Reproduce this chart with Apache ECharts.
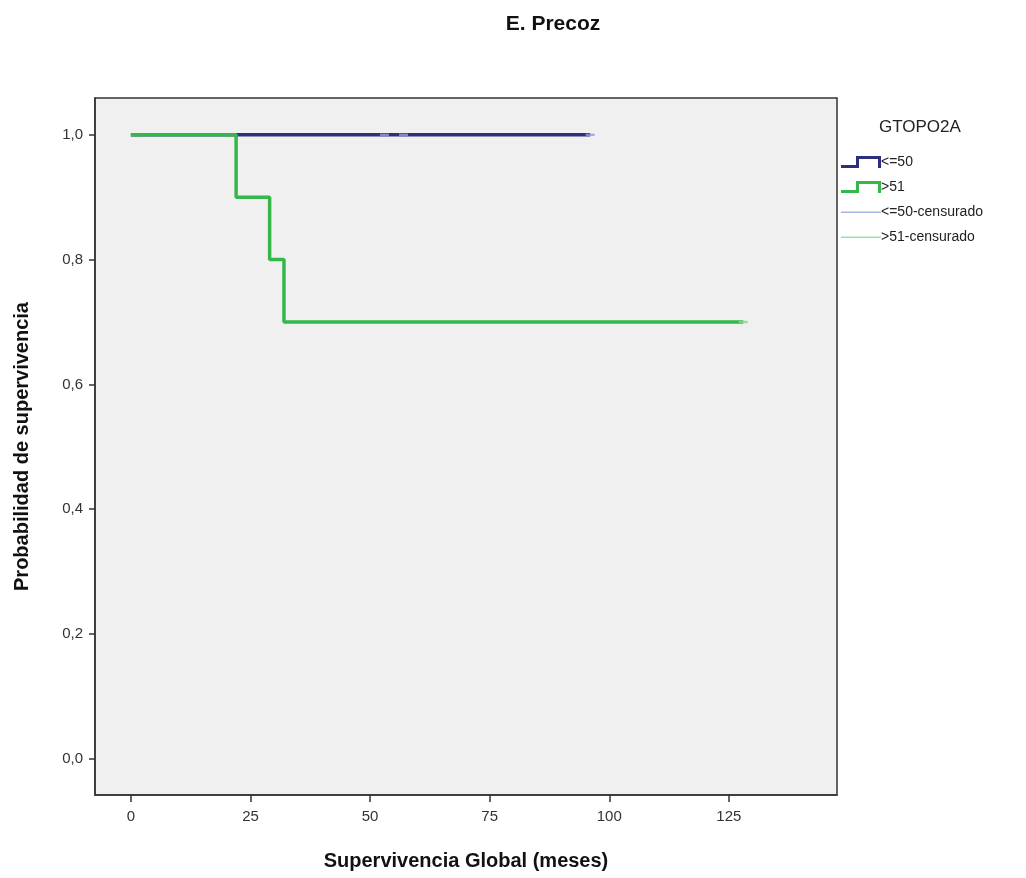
<!DOCTYPE html>
<html>
<head>
<meta charset="utf-8">
<script src="https://cdn.jsdelivr.net/npm/echarts@6/dist/echarts.min.js"></script>
<style>
html,body{margin:0;padding:0;background:#fff;}
#c{width:1026px;height:878px;}
</style>
</head>
<body>
<div id="c"></div>
<script>
// ---- data ----
var groupNames = ['<=50', '>51', '<=50-censurado', '>51-censurado'];
var xTicks = [0, 25, 50, 75, 100, 125];
var yTicks = [0, 0.2, 0.4, 0.6, 0.8, 1.0];
// Kaplan-Meier steps: times where survival changes, survival after change
var lowTimes = [0];
var lowSurv = [1.0];
var lowEnd = 96;
var highTimes = [0, 22, 29, 32];
var highSurv = [1.0, 0.9, 0.8, 0.7];
var highEnd = 128;
var lowCensorTimes = [53, 57, 96];
var highCensorTimes = [128];

function stepPoints(times, surv, end) {
  var pts = [];
  for (var i = 0; i < times.length; i++) {
    if (i > 0) pts.push([times[i], surv[i - 1]]);
    pts.push([times[i], surv[i]]);
  }
  pts.push([end, surv[surv.length - 1]]);
  return pts;
}
function survAt(times, surv, t) {
  var s = surv[0];
  for (var i = 0; i < times.length; i++) if (times[i] <= t) s = surv[i];
  return s;
}
function censorPoints(times, surv, ct) {
  return ct.map(function (t) { return [t, survAt(times, surv, t)]; });
}

var cNavy = '#2b2f7d', cGreen = '#35b84a', cLBlue = '#8ea3dc', cLGreen = '#7fdc8d';
var stepIcon = 'path://M0,9 L15,9 L15,0 L40,0 L40,12 L37,12 L37,3 L18,3 L18,12 L0,12 Z';
var thinIcon = 'path://M0,0 M40,12 M0,5.5 L40,5.5 L40,7 L0,7 Z';
var fontTick = "'Liberation Sans Narrow', 'Liberation Sans', Arial, sans-serif";
var fontMain = "'Liberation Sans', Arial, sans-serif";

var chart = echarts.init(document.getElementById('c'), null, {renderer: 'canvas'});
chart.setOption({
  animation: false,
  backgroundColor: '#ffffff',
  title: [
    {text: 'E. Precoz', left: 548, top: 9, textAlign: 'center',
     textStyle: {fontFamily: fontMain, fontSize: 21, fontWeight: 'bold', color: '#111'}},
    {text: 'GTOPO2A', left: 874, top: 114,
     textStyle: {fontFamily: fontMain, fontSize: 17, fontWeight: 'normal', color: '#222'}}
  ],
  legend: {
    orient: 'vertical', left: 836, top: 150, itemWidth: 40, itemHeight: 12, itemGap: 11,
    textStyle: {fontFamily: fontMain, fontSize: 14, color: '#222', padding: [0, 0, 0, -5]},
    data: [
      {name: groupNames[0], icon: stepIcon, itemStyle: {color: cNavy}},
      {name: groupNames[1], icon: stepIcon, itemStyle: {color: cGreen}},
      {name: groupNames[2], icon: thinIcon, itemStyle: {color: cLBlue}},
      {name: groupNames[3], icon: thinIcon, itemStyle: {color: cLGreen}}
    ]
  },
  grid: {left: 95, right: 189, top: 98, bottom: 83, show: true,
         backgroundColor: '#f0f0f0', borderColor: '#333', borderWidth: 1.5},
  xAxis: {
    type: 'value', min: -7.5, max: 147.6,
    name: 'Supervivencia Global (meses)', nameLocation: 'middle', nameGap: 56,
    nameTextStyle: {fontFamily: fontMain, fontSize: 20, fontWeight: 'bold', color: '#111'},
    axisLine: {show: true, onZero: false, lineStyle: {color: '#333', width: 1.5}},
    axisTick: {show: true, customValues: xTicks, length: 7, lineStyle: {color: '#333', width: 1.5}},
    axisLabel: {customValues: xTicks, margin: 14, fontFamily: fontTick, fontSize: 15, color: '#333',
                formatter: function (v) { return String(v); }},
    splitLine: {show: false}
  },
  yAxis: {
    type: 'value', min: -0.058, max: 1.059,
    name: 'Probabilidad de supervivencia', nameLocation: 'middle', nameGap: 63,
    nameTextStyle: {fontFamily: fontMain, fontSize: 20, fontWeight: 'bold', color: '#111'},
    axisLine: {show: true, onZero: false, lineStyle: {color: '#333', width: 1.5}},
    axisTick: {show: true, customValues: yTicks, length: 6, lineStyle: {color: '#333', width: 1.5}},
    axisLabel: {customValues: yTicks, margin: 12, fontFamily: fontTick, fontSize: 15, color: '#333',
                formatter: function (v) { return v.toFixed(1).replace('.', ','); }},
    splitLine: {show: false}
  },
  series: [
    {name: groupNames[0], type: 'line', data: stepPoints(lowTimes, lowSurv, lowEnd),
     showSymbol: false, symbol: 'none', lineStyle: {color: cNavy, width: 3.5}, itemStyle: {color: cNavy}, z: 2},
    {name: groupNames[1], type: 'line', data: stepPoints(highTimes, highSurv, highEnd),
     showSymbol: false, symbol: 'none', lineStyle: {color: cGreen, width: 3.5}, itemStyle: {color: cGreen}, z: 3},
    {name: groupNames[2], type: 'scatter', data: censorPoints(lowTimes, lowSurv, lowCensorTimes),
     symbol: 'rect', symbolSize: [9, 2.5], itemStyle: {color: cLBlue}, z: 4},
    {name: groupNames[3], type: 'scatter', data: censorPoints(highTimes, highSurv, highCensorTimes),
     symbol: 'rect', symbolSize: [9, 2.5], itemStyle: {color: cLGreen}, z: 4}
  ]
});
</script>
</body>
</html>
